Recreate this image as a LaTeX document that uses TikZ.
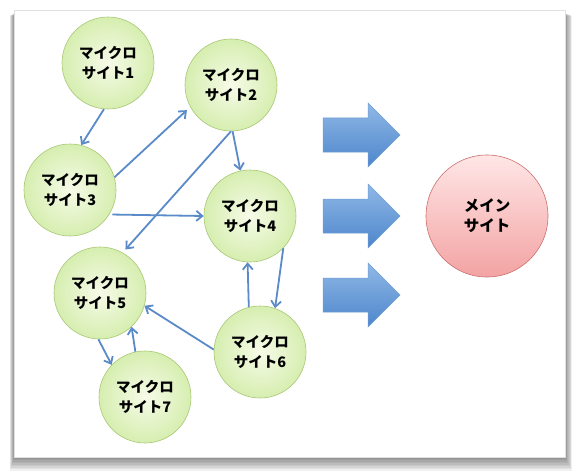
\documentclass[tikz,border=0pt]{standalone}
\usepackage{fontspec}
\newfontfamily\jp{Noto Sans CJK JP}
\usetikzlibrary{arrows.meta}
\definecolor{edgeblue}{HTML}{5A8BC8}
\definecolor{greentop}{HTML}{F6FBE8}
\definecolor{greenbot}{HTML}{D6EEB0}
\definecolor{greenborder}{HTML}{A9C774}
\definecolor{pinktop}{HTML}{FFE6E6}
\definecolor{pinkbot}{HTML}{F3A3A3}
\definecolor{pinkborder}{HTML}{C9716F}
\definecolor{bluetop}{HTML}{90B8E6}
\definecolor{bluebot}{HTML}{4D86CC}
\definecolor{blueborder}{HTML}{6F9DD6}
\begin{document}
\begin{tikzpicture}[x=1pt,y=-1pt,
  micro/.style={circle, minimum size=92pt, inner sep=0pt, draw=greenborder, line width=0.6pt,
    inner color=greentop, outer color=greenbot, align=center, text=black,
    font=\jp\bfseries\fontsize{14.5}{20}\selectfont},
  mainsite/.style={circle, minimum size=122pt, inner sep=0pt, draw=pinkborder, line width=0.6pt,
    top color=pinktop, bottom color=pinkbot, align=center, text=black,
    font=\jp\bfseries\fontsize{15.5}{20}\selectfont},
  link/.style={draw=edgeblue, line width=1.8pt, -{Straight Barb[length=6pt,width=10pt]}},
  blockarrow/.style={draw=blueborder, line width=0.5pt, top color=bluetop, bottom color=bluebot},
]
\useasboundingbox (0,0) rectangle (578,476);
% shadow of the card
\foreach \r in {1,...,9}
  \fill[black, opacity=0.06] (14-\r*0.5, 13+\r*0.3) rectangle (565+\r*0.8, 457+\r*1.5);
% card
\fill[white] (14,10) rectangle (565,457);
\draw[black!12, line width=0.4pt] (14,10) rectangle (565,457);

% micro sites
\node[micro] (c1) at (108,63)  {マイクロ\\サイト1};
\node[micro] (c2) at (231,85)  {マイクロ\\サイト2};
\node[micro] (c3) at (70,190)  {マイクロ\\サイト3};
\node[micro] (c4) at (250,216) {マイクロ\\サイト4};
\node[micro] (c5) at (100,293) {マイクロ\\サイト5};
\node[micro] (c6) at (260,352) {マイクロ\\サイト6};
\node[micro] (c7) at (145,397) {マイクロ\\サイト7};

% main site
\node[mainsite] (m) at (487,216) {メイン\\サイト};

% block arrows
\foreach \y in {135,216,295}
  \draw[blockarrow] (323,\y-17) -- (368,\y-17) -- (368,\y-32) -- (400,\y)
     -- (368,\y+32) -- (368,\y+17) -- (323,\y+17) -- cycle;

% links
\draw[link] (c1.265) -- (c3.76);
\draw[link] (c3.16) -- ([shift={(-4,2)}]c2.210);
\draw[link] (c2.270) -- ([shift={(3,-3)}]c5.61);
\draw[link] (c2.272) -- (c4.102);
\draw[link] ([shift={(3,0)}]c3.-32) -- (c4.180);
\draw[link] (c6.104) -- (c4.267);
\draw[link] (c4.-44) -- (c6.71);
\draw[link] (c6.177) -- (c5.-16);
\draw[link] (c5.268) -- (c7.136);
\draw[link] (c7.102) -- (c5.-47);
\end{tikzpicture}
\end{document}
